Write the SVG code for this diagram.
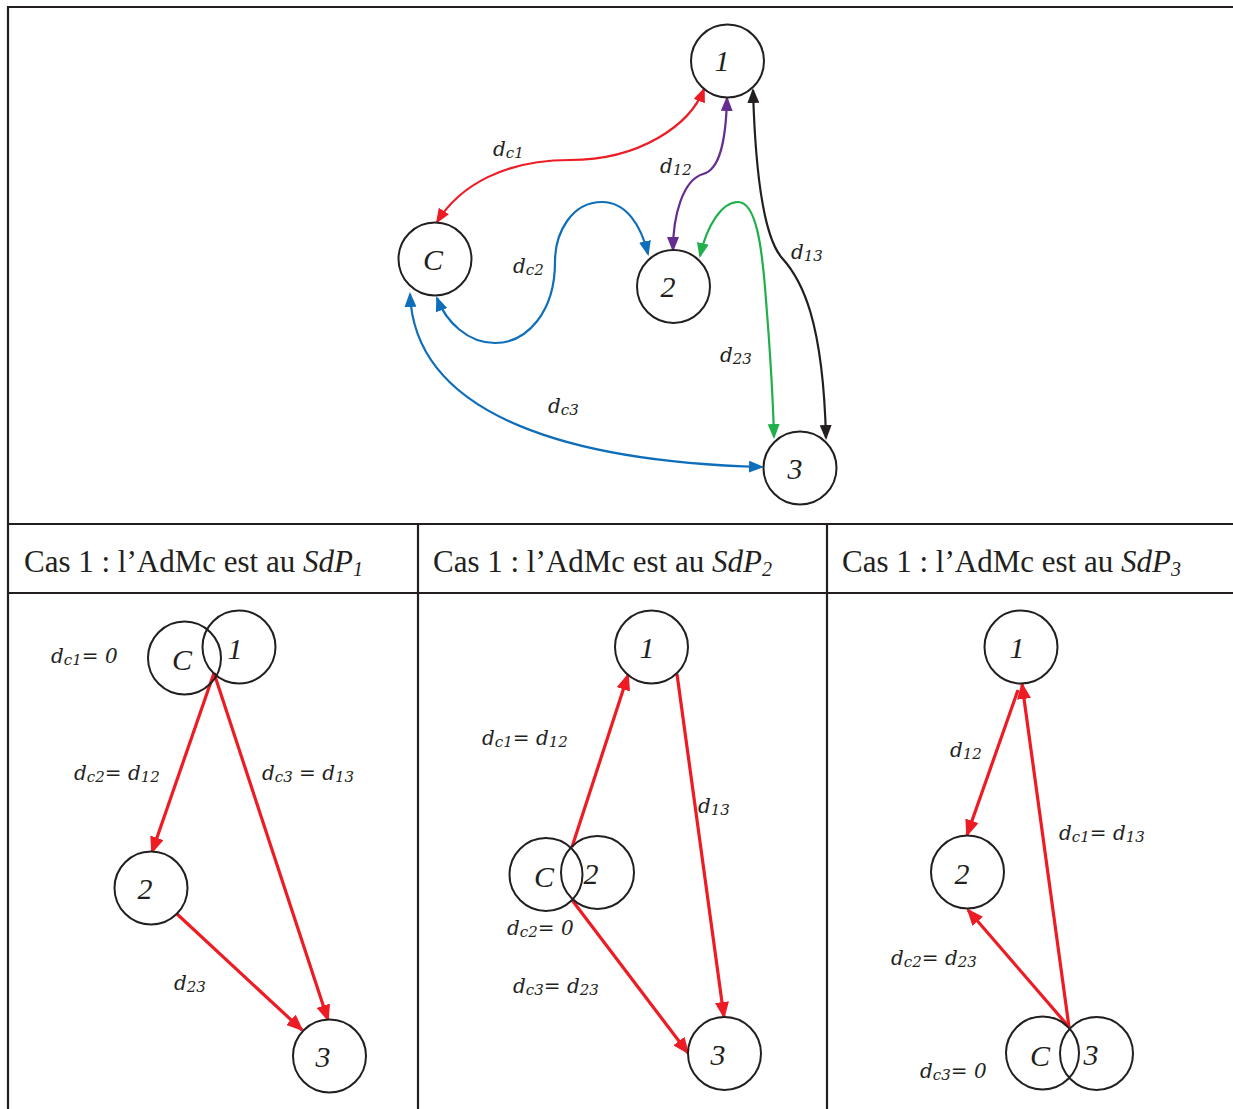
<svg xmlns="http://www.w3.org/2000/svg" width="1233" height="1109" viewBox="0 0 1233 1109">
<style>
.frame{stroke:#231F20;stroke-width:2.2;fill:none}
.node{fill:#fff;stroke:#231F20;stroke-width:2}
.ov{fill:none;stroke:#231F20;stroke-width:2}
.nl{font-family:"Liberation Serif",serif;font-style:italic;font-size:30px;fill:#231F20;text-anchor:middle}
.el{font-family:"DejaVu Serif",serif;font-style:italic;font-size:20px;fill:#231F20}
.sub{font-size:15px}
.hd{font-family:"Liberation Serif",serif;font-size:31px;fill:#231F20}
.c{fill:none;stroke-width:2.2}
.r{fill:none;stroke:#ED1C24;stroke-width:3.2}
</style>
<defs>
<marker id="mRed" markerUnits="userSpaceOnUse" markerWidth="17" markerHeight="14" refX="15" refY="7" orient="auto-start-reverse"><path d="M0,0 L17,7 L0,14 z" fill="#ED1C24"/></marker>
<marker id="mPur" markerUnits="userSpaceOnUse" markerWidth="15" markerHeight="12" refX="13" refY="6" orient="auto-start-reverse"><path d="M0,0 L15,6 L0,12 z" fill="#662D91"/></marker>
<marker id="mBlu" markerUnits="userSpaceOnUse" markerWidth="15" markerHeight="12" refX="13" refY="6" orient="auto-start-reverse"><path d="M0,0 L15,6 L0,12 z" fill="#0F6EBA"/></marker>
<marker id="mGrn" markerUnits="userSpaceOnUse" markerWidth="15" markerHeight="12" refX="13" refY="6" orient="auto-start-reverse"><path d="M0,0 L15,6 L0,12 z" fill="#1FB04B"/></marker>
<marker id="mBlk" markerUnits="userSpaceOnUse" markerWidth="15" markerHeight="12" refX="13" refY="6" orient="auto-start-reverse"><path d="M0,0 L15,6 L0,12 z" fill="#231F20"/></marker>
<marker id="mRedT" markerUnits="userSpaceOnUse" markerWidth="15" markerHeight="12" refX="13" refY="6" orient="auto-start-reverse"><path d="M0,0 L15,6 L0,12 z" fill="#ED1C24"/></marker>
</defs>
<rect width="1233" height="1109" fill="#fff"/>
<g id="frame">
<path class="frame" d="M8,1109 V7 H1233"/>
<path class="frame" d="M8,524 H1233 M8,593 H1233 M418,524 V1109 M827,524 V1109"/>
<text class="hd" x="24" y="572">Cas 1 : l’AdMc est au <tspan font-style="italic">SdP</tspan><tspan font-style="italic" font-size="20" dy="4">1</tspan></text>
<text class="hd" x="433" y="572">Cas 1 : l’AdMc est au <tspan font-style="italic">SdP</tspan><tspan font-style="italic" font-size="20" dy="4">2</tspan></text>
<text class="hd" x="842" y="572">Cas 1 : l’AdMc est au <tspan font-style="italic">SdP</tspan><tspan font-style="italic" font-size="20" dy="4">3</tspan></text>
</g>
<g id="connectors">
<path class="c" stroke="#ED1C24" marker-start="url(#mRedT)" marker-end="url(#mRedT)" d="M437,222 C460,185 505,160 570,160 C640,160 690,125 704,89"/>
<path class="c" stroke="#662D91" marker-start="url(#mPur)" marker-end="url(#mPur)" d="M727,98 C726,140 720,170 703,174 C683,180 673,215 673,250"/>
<path class="c" stroke="#0F6EBA" marker-start="url(#mBlu)" marker-end="url(#mBlu)" d="M648,254 C641,225 626,202 602,202 C572,202 555,232 555,262 C555,312 527,343 495,343 C468,343 446,322 437,298"/>
<path class="c" stroke="#1FB04B" marker-start="url(#mGrn)" marker-end="url(#mGrn)" d="M700,256 C707,225 722,202 738,202 C756,202 762,245 766,300 C770,350 773,400 774,437"/>
<path class="c" stroke="#231F20" marker-start="url(#mBlk)" marker-end="url(#mBlk)" d="M753,90 C755,160 762,235 782,258 C802,280 823,320 826,438"/>
<path class="c" stroke="#0F6EBA" marker-start="url(#mBlu)" marker-end="url(#mBlu)" d="M410,294 C415,420 580,462 762,467"/>
<path class="r" marker-end="url(#mRed)" d="M214,673 L152,852"/>
<path class="r" marker-end="url(#mRed)" d="M214,673 L328,1020"/>
<path class="r" marker-end="url(#mRed)" d="M177,914 L302,1030"/>
<path class="r" marker-end="url(#mRed)" d="M572,847 L628,675"/>
<path class="r" marker-end="url(#mRed)" d="M677,674 L724,1017"/>
<path class="r" marker-end="url(#mRed)" d="M572,900 L688,1053"/>
<path class="r" marker-end="url(#mRed)" d="M1069,1027 L1022,684"/>
<path class="r" marker-end="url(#mRed)" d="M1018,690 L967,835"/>
<path class="r" marker-end="url(#mRed)" d="M1069,1027 L968,910"/>
</g>
<g id="top-nodes">
<g id="t1"><circle class="node" cx="727.5" cy="61" r="36.5"/><text class="nl" x="722" y="71">1</text></g>
<g id="tC"><circle class="node" cx="435" cy="259" r="36.5"/><text class="nl" x="433" y="270">C</text></g>
<g id="t2"><circle class="node" cx="673.5" cy="286.5" r="36.5"/><text class="nl" x="668" y="297">2</text></g>
<g id="t3"><circle class="node" cx="800" cy="468" r="36.5"/><text class="nl" x="795" y="479">3</text></g>
</g>
<g id="top-labels">
<text class="el" x="493" y="156">d<tspan class="sub" dy="2">c1</tspan></text>
<text class="el" x="660" y="173">d<tspan class="sub" dy="2">12</tspan></text>
<text class="el" x="791" y="259">d<tspan class="sub" dy="2">13</tspan></text>
<text class="el" x="513" y="273">d<tspan class="sub" dy="2">c2</tspan></text>
<text class="el" x="720" y="362">d<tspan class="sub" dy="2">23</tspan></text>
<text class="el" x="548" y="413">d<tspan class="sub" dy="2">c3</tspan></text>
</g>
<g id="p1">
<g id="p1C"><circle class="ov" cx="184.5" cy="658" r="36.5"/><text class="nl" x="182" y="670">C</text></g>
<g id="p11"><circle class="ov" cx="239" cy="647" r="36.5"/><text class="nl" x="235" y="659">1</text></g>
<g id="p12"><circle class="node" cx="151" cy="888" r="36.5"/><text class="nl" x="145" y="899">2</text></g>
<g id="p13"><circle class="node" cx="329.5" cy="1056" r="36.5"/><text class="nl" x="323" y="1067">3</text></g>
<text class="el" x="51" y="663">d<tspan class="sub" dy="2">c1</tspan><tspan dy="-2">= 0</tspan></text>
<text class="el" x="74" y="780">d<tspan class="sub" dy="2">c2</tspan><tspan dy="-2">= d</tspan><tspan class="sub" dy="2">12</tspan></text>
<text class="el" x="262" y="780">d<tspan class="sub" dy="2">c3</tspan><tspan dy="-2"> = d</tspan><tspan class="sub" dy="2">13</tspan></text>
<text class="el" x="174" y="990">d<tspan class="sub" dy="2">23</tspan></text>
</g>
<g id="p2">
<g id="p21"><circle class="node" cx="651.5" cy="647" r="36.5"/><text class="nl" x="647" y="658">1</text></g>
<g id="p2C"><circle class="ov" cx="546" cy="874.5" r="36.5"/><text class="nl" x="544" y="887">C</text></g>
<g id="p22"><circle class="ov" cx="597.5" cy="872.5" r="36.5"/><text class="nl" x="591" y="884">2</text></g>
<g id="p23"><circle class="node" cx="724.5" cy="1053.5" r="36.5"/><text class="nl" x="718" y="1065">3</text></g>
<text class="el" x="482" y="745">d<tspan class="sub" dy="2">c1</tspan><tspan dy="-2">= d</tspan><tspan class="sub" dy="2">12</tspan></text>
<text class="el" x="698" y="813">d<tspan class="sub" dy="2">13</tspan></text>
<text class="el" x="507" y="935">d<tspan class="sub" dy="2">c2</tspan><tspan dy="-2">= 0</tspan></text>
<text class="el" x="513" y="993">d<tspan class="sub" dy="2">c3</tspan><tspan dy="-2">= d</tspan><tspan class="sub" dy="2">23</tspan></text>
</g>
<g id="p3">
<g id="p31"><circle class="node" cx="1021" cy="647" r="36.5"/><text class="nl" x="1017" y="658">1</text></g>
<g id="p32"><circle class="node" cx="967.5" cy="872" r="36.5"/><text class="nl" x="962" y="884">2</text></g>
<g id="p3C"><circle class="ov" cx="1042.5" cy="1053" r="36.5"/><text class="nl" x="1040" y="1066">C</text></g>
<g id="p33"><circle class="ov" cx="1096.5" cy="1053.5" r="36.5"/><text class="nl" x="1091" y="1065">3</text></g>
<text class="el" x="950" y="757">d<tspan class="sub" dy="2">12</tspan></text>
<text class="el" x="1059" y="840">d<tspan class="sub" dy="2">c1</tspan><tspan dy="-2">= d</tspan><tspan class="sub" dy="2">13</tspan></text>
<text class="el" x="891" y="965">d<tspan class="sub" dy="2">c2</tspan><tspan dy="-2">= d</tspan><tspan class="sub" dy="2">23</tspan></text>
<text class="el" x="920" y="1078">d<tspan class="sub" dy="2">c3</tspan><tspan dy="-2">= 0</tspan></text>
</g>
</svg>
